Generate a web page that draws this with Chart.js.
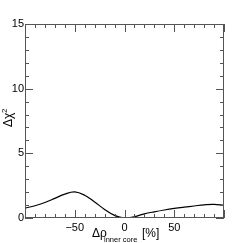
<!DOCTYPE html>
<html>
<head>
<meta charset="utf-8">
<script src="https://cdn.jsdelivr.net/npm/chart.js@4"></script>
<style>
  html, body { margin: 0; padding: 0; background: #fff; }
</style>
</head>
<body>
<canvas id="chi2" width="249" height="243"></canvas>
<script>
// delta rho of the inner core [%] vs delta chi^2
const rhoValues = [-100, -90, -80, -70, -60, -50, -40, -30, -20, -10, 0, 10, 20, 30, 40, 50, 60, 70, 80, 90, 100];
const chiValues = [0.77, 0.95, 1.2, 1.52, 1.85, 2.02, 1.76, 1.24, 0.66, 0.2, 0, 0.1, 0.32, 0.48, 0.62, 0.74, 0.84, 0.93, 1.02, 1.06, 0.98];
const xTicks = [-50, 0, 50];
const yTicks = [0, 5, 10, 15];

const axisColor = "#555";

// ROOT style ticks: inside, on all four sides, minor ticks in between
const innerTicks = {
  id: "innerTicks",
  afterDraw(chart) {
    const ctx = chart.ctx, a = chart.chartArea;
    const xs = chart.scales.x, ys = chart.scales.y;
    ctx.save();
    ctx.strokeStyle = axisColor;
    ctx.lineWidth = 1;
    ctx.beginPath();
    for (let v = -100; v <= 100; v += 10) {
      const px = Math.round(xs.getPixelForValue(v)) + 0.5;
      const len = v % 50 === 0 ? 8 : 4;
      ctx.moveTo(px, a.bottom); ctx.lineTo(px, a.bottom - len);
      ctx.moveTo(px, a.top); ctx.lineTo(px, a.top + len);
    }
    for (let v = 0; v <= 15; v += 1) {
      const py = Math.round(ys.getPixelForValue(v)) + 0.5;
      const len = v % 5 === 0 ? 8 : 4;
      ctx.moveTo(a.left, py); ctx.lineTo(a.left + len, py);
      ctx.moveTo(a.right, py); ctx.lineTo(a.right - len, py);
    }
    ctx.stroke();
    ctx.strokeRect(Math.round(a.left) + 0.5, Math.round(a.top) + 0.5,
                   Math.round(a.right - a.left) - 1, Math.round(a.bottom - a.top) - 1);

    // axis titles
    ctx.fillStyle = "#000";
    ctx.textBaseline = "alphabetic";
    ctx.textAlign = "left";
    ctx.font = "12px 'Liberation Sans', Arial, sans-serif";
    ctx.fillText("Δρ", 92, 237);
    ctx.fillText("[%]", 142, 237);
    ctx.font = "7.5px 'Liberation Sans', Arial, sans-serif";
    ctx.fillText("inner core", 104, 242);

    ctx.translate(12, 127);
    ctx.rotate(-Math.PI / 2);
    ctx.font = "12px 'Liberation Sans', Arial, sans-serif";
    ctx.fillText("Δχ", 0, 0);
    ctx.font = "8px 'Liberation Sans', Arial, sans-serif";
    ctx.fillText("2", 14, -5);
    ctx.restore();
  }
};

new Chart(document.getElementById("chi2"), {
  type: "line",
  data: {
    datasets: [{
      data: rhoValues.map((x, i) => ({ x: x, y: chiValues[i] })),
      borderColor: "#000",
      borderWidth: 1.2,
      pointRadius: 0,
      tension: 0.4,
      fill: false
    }]
  },
  options: {
    responsive: false,
    animation: false,
    devicePixelRatio: 1,
    layout: { padding: { top: 24, right: 25, left: 0, bottom: 0 } },
    plugins: { legend: { display: false }, tooltip: { enabled: false } },
    scales: {
      x: {
        type: "linear",
        min: -100, max: 100,
        afterBuildTicks: s => { s.ticks = xTicks.map(v => ({ value: v })); },
        afterFit: s => { s.height = 25; },
        grid: { display: false, drawTicks: false },
        border: { display: false },
        ticks: {
          color: "#000", padding: 3, maxRotation: 0,
          font: { family: "'Liberation Sans', Arial, sans-serif", size: 11 },
          callback: v => (v < 0 ? "\u2212" + Math.abs(v) : String(v))
        }
      },
      y: {
        min: 0, max: 15,
        afterBuildTicks: s => { s.ticks = yTicks.map(v => ({ value: v })); },
        afterFit: s => { s.width = 25; },
        grid: { display: false, drawTicks: false },
        border: { display: false },
        ticks: {
          color: "#000", padding: 1,
          font: { family: "'Liberation Sans', Arial, sans-serif", size: 11 }
        }
      }
    }
  },
  plugins: [innerTicks]
});
</script>
</body>
</html>
